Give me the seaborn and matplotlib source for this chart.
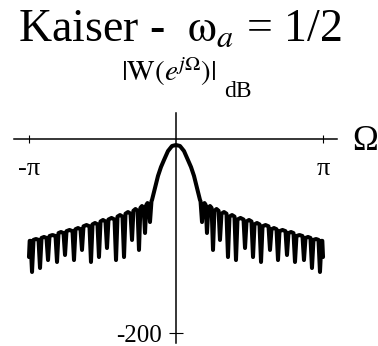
import numpy as np
import matplotlib
matplotlib.use("Agg")
import matplotlib.pyplot as plt
import seaborn as sns

# Right half of the Kaiser window magnitude response (Omega in rad, level in dB).
# The response is even in Omega, so the left half is the mirror image.
omega_right = [
    0.000, 0.085, 0.171, 0.256, 0.321, 0.385, 0.449, 0.513, 0.524,
    0.556, 0.583, 0.609, 0.635,
    0.662, 0.692, 0.727, 0.761,
    0.791, 0.821, 0.866, 0.910,
    0.940, 0.972, 1.026, 1.079,
    1.111, 1.143, 1.197, 1.250,
    1.282, 1.314, 1.378, 1.443,
    1.475, 1.507, 1.560, 1.613,
    1.646, 1.678, 1.731, 1.784,
    1.817, 1.849, 1.913, 1.977,
    2.009, 2.041, 2.094, 2.148,
    2.180, 2.212, 2.276, 2.340,
    2.372, 2.404, 2.458, 2.511,
    2.543, 2.575, 2.639, 2.703,
    2.735, 2.768, 2.821, 2.874,
    2.906, 2.938, 2.992, 3.045,
    3.077, 3.109, 3.127, 3.142,
]
level_db_right = [
    -6.2, -7.2, -12.4, -21.6, -28.9, -38.1, -50.5, -62.9, -64.0,
    -85.6, -68.0, -66.0, -68.0,
    -96.9, -71.0, -69.1, -71.0,
    -114.4, -74.0, -72.2, -74.0,
    -104.1, -77.0, -75.3, -77.0,
    -121.7, -80.0, -78.4, -80.0,
    -124.8, -83.0, -81.4, -83.0,
    -112.4, -85.0, -83.5, -85.0,
    -121.7, -88.0, -86.6, -88.0,
    -126.8, -90.0, -88.7, -90.0,
    -114.4, -93.0, -91.8, -93.0,
    -124.8, -95.0, -93.8, -95.0,
    -119.6, -97.0, -95.9, -97.0,
    -126.8, -100.0, -99.0, -100.0,
    -124.8, -102.0, -101.0, -102.0,
    -133.0, -104.0, -103.1, -104.0,
    -137.1, -105.0, -105.0, -121.7,
]

x_ticks = [-np.pi, np.pi]
x_tick_labels = ["-\u03c0", "\u03c0"]
y_ticks = [-200]
y_tick_labels = ["-200"]

title_text = r"Kaiser -  $\mathrm{\omega}_{a}$ = 1/2"
ylabel_text = r"$|\mathrm{W}(e^{j\Omega})|$"
ylabel_unit = "dB"
xlabel_text = "\u03a9"

sns.set_theme(style="white")
plt.rcParams["font.family"] = ["Liberation Serif", "DejaVu Serif"]
plt.rcParams["mathtext.fontset"] = "stix"

omega_r = np.array(omega_right)
level_r = np.array(level_db_right)
omega = np.concatenate([-omega_r[::-1][:-1], omega_r])
level = np.concatenate([level_r[::-1][:-1], level_r])

W, H = 378, 346
fig = plt.figure(figsize=(W / 100, H / 100), dpi=100)
fig.patch.set_facecolor("white")

# axes box placed in pixel terms: x from 14 to 337 px, y from 113 to 343 px
ax = fig.add_axes([14 / W, 3 / H, 323 / W, 230 / H])
ax.set_facecolor("white")
px = np.pi / 147.0
ax.set_xlim((14 - 176) * px, (337 - 176) * px)
db = 200.0 / 194.0
ax.set_ylim(-(343 - 139) * db, -(113 - 139) * db)

sns.lineplot(x=omega, y=level, ax=ax, sort=False, estimator=None,
             color="black", linewidth=2.9)

for s in ["top", "right"]:
    ax.spines[s].set_visible(False)
ax.spines["left"].set_position(("data", 0))
ax.spines["bottom"].set_position(("data", 0))
for s in ["left", "bottom"]:
    ax.spines[s].set_color("black")
    ax.spines[s].set_linewidth(1.1)

ax.set_xticks(x_ticks)
ax.set_xticklabels(x_tick_labels, fontsize=19)
ax.set_yticks(y_ticks)
ax.set_yticklabels(y_tick_labels, fontsize=18)
ax.tick_params(axis="x", direction="inout", length=6, width=0.8, pad=11,
               colors="black", bottom=True)
ax.tick_params(axis="y", direction="inout", length=10, width=0.8, pad=5,
               colors="black", left=True)
ax.set_xlabel("")
ax.set_ylabel("")
ax.grid(False)

fig.text(180 / W, 1 - 41 / H, title_text, ha="center", va="baseline",
         fontsize=33, color="black")
fig.text(121 / W, 1 - 81 / H, ylabel_text, ha="left", va="baseline",
         fontsize=21, color="black")
fig.text(224 / W, 1 - 97 / H, ylabel_unit, ha="left", va="baseline",
         fontsize=17, color="black")
fig.text(365 / W, 1 - 141 / H, xlabel_text, ha="center", va="center",
         fontsize=25, color="black")

fig.savefig("out.png", dpi=100, facecolor="white")
